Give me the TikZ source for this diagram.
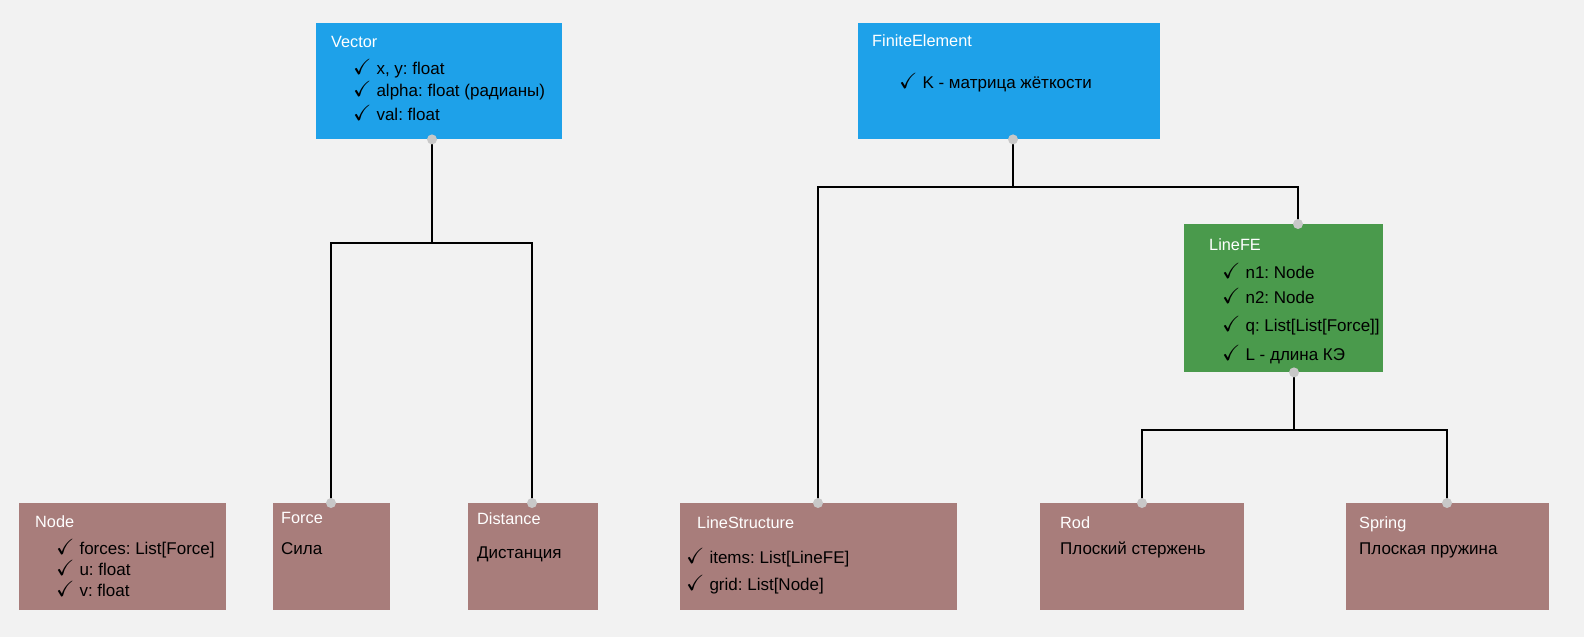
\documentclass[tikz,border=0pt]{standalone}
\usepackage{fontspec}
\usepackage{amssymb}
\setmainfont{Liberation Sans}
\frenchspacing
\definecolor{bg}{HTML}{F2F2F2}
\definecolor{blueBox}{HTML}{1EA1E9}
\definecolor{greenBox}{HTML}{4A9A4C}
\definecolor{redBox}{HTML}{A87D7B}
\definecolor{pinGray}{HTML}{C8C8C8}
\newcommand{\chk}{{\fontsize{22}{22}\selectfont$\checkmark$}\hspace{5pt}}
\tikzset{
  box/.style={draw=none, inner sep=0pt, anchor=north west},
  title/.style={anchor=west, inner sep=0pt, text=white, text height=11.5pt, text depth=0pt, font=\fontsize{16.3}{19}\selectfont},
  item/.style={anchor=west, inner sep=0pt, text=black, text height=12pt, text depth=0pt, font=\fontsize{17}{20}\selectfont},
  link/.style={line width=2pt}
}
\begin{document}
\begin{tikzpicture}[x=1pt,y=-1pt]
\fill[bg] (0,0) rectangle (1584,637);

% classes
\node[box, fill=blueBox, minimum width=246, minimum height=116] (vector) at (316,23) {};
\node[box, fill=blueBox, minimum width=302, minimum height=116] (finite) at (858,23) {};
\node[box, fill=greenBox, minimum width=199, minimum height=148] (linefe) at (1184,224) {};
\node[box, fill=redBox, minimum width=207, minimum height=107] (nodebox) at (19,503) {};
\node[box, fill=redBox, minimum width=117, minimum height=107] (force) at (273,503) {};
\node[box, fill=redBox, minimum width=130, minimum height=107] (distance) at (468,503) {};
\node[box, fill=redBox, minimum width=277, minimum height=107] (lstruct) at (680,503) {};
\node[box, fill=redBox, minimum width=204, minimum height=107] (rod) at (1040,503) {};
\node[box, fill=redBox, minimum width=203, minimum height=107] (spring) at (1346,503) {};

% texts
\node[title] (vectorT) at (331,42) {Vector};
\node[item] at (353,68) {\chk x, y: float};
\node[item] at (353,90) {\chk alpha: float (радианы)};
\node[item] at (353,114) {\chk val: float};

\node[title] (finiteT) at (872,41) {FiniteElement};
\node[item] at (899,82) {\chk K - матрица жёткости};

\node[title] (linefeT) at (1209,245) {LineFE};
\node[item] at (1222,272) {\chk n1: Node};
\node[item] at (1222,297) {\chk n2: Node};
\node[item] at (1222,325) {\chk q: List[List[Force]]};
\node[item] at (1222,354) {\chk L - длина КЭ};

\node[title] (nodeT) at (35,522) {Node};
\node[item] at (56,548) {\chk forces: List[Force]};
\node[item] at (56,569) {\chk u: float};
\node[item] at (56,590) {\chk v: float};

\node[title] (forceT) at (281,518) {Force};
\node[item] at (281,548) {Сила};

\node[title] (distanceT) at (477,519) {Distance};
\node[item] at (477,552) {Дистанция};

\node[title] (lstructT) at (697,523) {LineStructure};
\node[item] at (686,557) {\chk items: List[LineFE]};
\node[item] at (686,584) {\chk grid: List[Node]};

\node[title] (rodT) at (1060,523) {Rod};
\node[item] at (1060,548) {Плоский стержень};

\node[title] (springT) at (1359,523) {Spring};
\node[item] at (1359,548) {Плоская пружина};

% connectors
\coordinate (vecdot) at (vector.south -| 432,0);
\coordinate (vecjoin) at (432,243);
\coordinate (forcedot) at (force.north -| 331,0);
\coordinate (distdot) at (distance.north -| 532,0);
\draw[link] (vecdot) -- (vecjoin);
\draw[link] (forcedot) |- (vecjoin) -| (distdot);

\coordinate (findot) at (finite.south -| 1013,0);
\coordinate (finjoin) at (1013,187);
\coordinate (lsdot) at (lstruct.north -| 818,0);
\coordinate (lfetop) at (linefe.north -| 1298,0);
\draw[link] (findot) -- (finjoin);
\draw[link] (lsdot) |- (finjoin) -| (lfetop);

\coordinate (lfebot) at (linefe.south -| 1294,0);
\coordinate (lfejoin) at (1294,430);
\coordinate (roddot) at (rod.north -| 1142,0);
\coordinate (springdot) at (spring.north -| 1447,0);
\draw[link] (lfebot) -- (lfejoin);
\draw[link] (roddot) |- (lfejoin) -| (springdot);

\foreach \p in {vecdot,forcedot,distdot,findot,lsdot,lfetop,lfebot,roddot,springdot}
  \fill[pinGray] (\p) circle (5);
\end{tikzpicture}
\end{document}
